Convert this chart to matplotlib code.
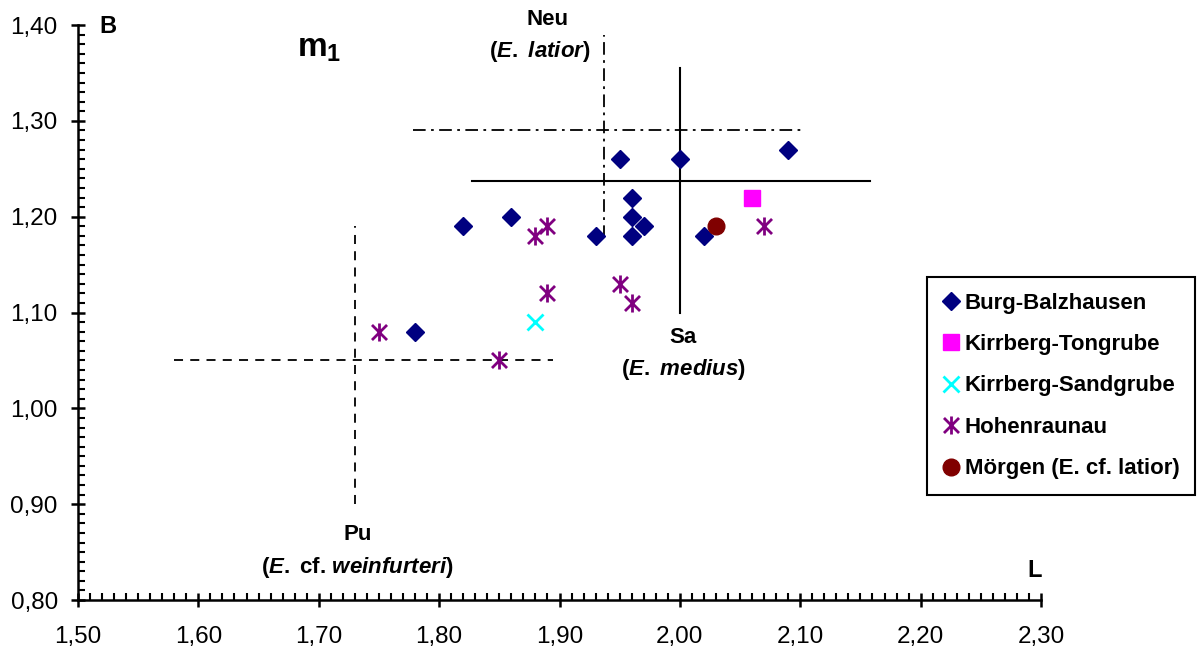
import matplotlib
matplotlib.use("Agg")
import matplotlib.pyplot as plt
from matplotlib.path import Path
from matplotlib.ticker import MultipleLocator, FuncFormatter

plt.rcParams['font.family'] = ['Liberation Sans', 'DejaVu Sans']
plt.rcParams['mathtext.fontset'] = 'custom'
plt.rcParams['mathtext.rm'] = 'Liberation Sans:bold'
plt.rcParams['mathtext.bf'] = 'Liberation Sans:bold'
plt.rcParams['mathtext.it'] = 'Liberation Sans:bold:italic'

# ---- data ----
burg_L = [1.78, 1.82, 1.86, 1.93, 1.95, 1.96, 1.96, 1.96, 1.97, 2.00, 2.02, 2.09]
burg_B = [1.08, 1.19, 1.20, 1.18, 1.26, 1.22, 1.20, 1.18, 1.19, 1.26, 1.18, 1.27]
ton_L = [2.06]
ton_B = [1.22]
sand_L = [1.88]
sand_B = [1.09]
hohen_L = [1.75, 1.85, 1.88, 1.89, 1.89, 1.95, 1.96, 2.07]
hohen_B = [1.08, 1.05, 1.18, 1.19, 1.12, 1.13, 1.11, 1.19]
moer_L = [2.03]
moer_B = [1.19]

series_names = ["Burg-Balzhausen", "Kirrberg-Tongrube", "Kirrberg-Sandgrube",
                "Hohenraunau", "Mörgen (E. cf. latior)"]

# reference crosses (centre lines of species ranges)
pu_x = 1.73; pu_y = 1.05; pu_xrange = (1.58, 1.895); pu_yrange = (0.90, 1.19)
neu_x = 1.937; neu_y = 1.29; neu_xrange = (1.778, 2.102); neu_yrange = (1.178, 1.39)
sa_x = 2.00; sa_y = 1.237; sa_xrange = (1.827, 2.158); sa_yrange = (1.10, 1.355)

x_ticks = [1.50, 1.60, 1.70, 1.80, 1.90, 2.00, 2.10, 2.20, 2.30]
y_ticks = [0.80, 0.90, 1.00, 1.10, 1.20, 1.30, 1.40]

W, H = 1202, 648
fig = plt.figure(figsize=(W / 100, H / 100), dpi=100)
ax = fig.add_axes([78 / W, 48 / H, 963 / W, 575 / H])
ax.set_xlim(1.50, 2.30)
ax.set_ylim(0.80, 1.40)

for s in ['top', 'right']:
    ax.spines[s].set_visible(False)
for s in ['left', 'bottom']:
    ax.spines[s].set_linewidth(1.8)

ax.set_xticks(x_ticks)
ax.set_yticks(y_ticks)
ax.xaxis.set_minor_locator(MultipleLocator(0.01))
ax.yaxis.set_minor_locator(MultipleLocator(0.01))
fmt = FuncFormatter(lambda v, p: f"{v:.2f}".replace('.', ','))
ax.xaxis.set_major_formatter(fmt)
ax.yaxis.set_major_formatter(fmt)
ax.tick_params(which='major', direction='inout', length=10, width=1.8, labelsize=17.5)
ax.tick_params(axis='x', which='major', pad=14)
ax.tick_params(axis='y', which='major', pad=9.5)
ax.tick_params(which='minor', direction='in', length=5, width=1.5)

# asterisk marker: X plus vertical bar
ast = Path([(-0.5, -0.5), (0.5, 0.5), (-0.5, 0.5), (0.5, -0.5), (0, -0.6), (0, 0.6)],
           [Path.MOVETO, Path.LINETO, Path.MOVETO, Path.LINETO, Path.MOVETO, Path.LINETO])

ax.plot(burg_L, burg_B, ls='none', marker='D', ms=9.5, color='#000080', label=series_names[0], zorder=5)
ax.plot(ton_L, ton_B, ls='none', marker='s', ms=11.5, color='#FF00FF', label=series_names[1], zorder=5)
ax.plot(sand_L, sand_B, ls='none', marker='x', ms=11, mew=2, color='#00FFFF', label=series_names[2], zorder=5)
ax.plot(hohen_L, hohen_B, ls='none', marker=ast, ms=13, mew=2, color='#800080', label=series_names[3], zorder=5)
ax.plot(moer_L, moer_B, ls='none', marker='o', ms=12, color='#800000', label=series_names[4], zorder=6)

# reference lines
lw = 1.3
ax.plot(pu_xrange, [pu_y, pu_y], color='black', lw=lw, ls=(0, (5, 4)))
ax.plot([pu_x, pu_x], pu_yrange, color='black', lw=lw, ls=(0, (5, 4)))
ax.plot(neu_xrange, [neu_y, neu_y], color='black', lw=lw, ls=(0, (7, 3, 1.5, 3)))
ax.plot([neu_x, neu_x], neu_yrange, color='black', lw=lw, ls=(0, (7, 3, 1.5, 3)))
ax.plot(sa_xrange, [sa_y, sa_y], color='black', lw=1.5, ls='-')
ax.plot([sa_x, sa_x], sa_yrange, color='black', lw=1.5, ls='-')

# labels
tk = dict(fontsize=16, fontweight='bold', ha='center', va='center', clip_on=False)
ax.text(1.890, 1.406, "Neu", **tk)
ax.text(1.884, 1.372, r"($\mathit{E.\ latior}$)", **tk)
ax.text(2.0025, 1.074, "Sa", **tk)
ax.text(2.003, 1.040, r"($\mathit{E.\ medius}$)", **tk)
ax.text(1.7326, 0.868, "Pu", **tk)
ax.text(1.732, 0.834, r"($\mathit{E.}$ cf. $\mathit{weinfurteri}$)", **tk)

ax.text(1.70, 1.376, r"$\mathbf{m_1}$", fontsize=24, fontweight='bold', ha='center', va='center')
ax.text(1.525, 1.398, "B", fontsize=17, fontweight='bold', ha='center', va='center', clip_on=False)
ax.text(2.295, 0.831, "L", fontsize=17, fontweight='bold', ha='center', va='center')

leg = ax.legend(loc='upper left', bbox_to_anchor=(927 / W, 1 - 277 / H), bbox_transform=fig.transFigure,
                frameon=True, fancybox=False, edgecolor='black', framealpha=1,
                prop={'weight': 'bold', 'size': 16}, handlelength=0.8, handletextpad=0.2,
                labelspacing=0.92, borderpad=0.7, borderaxespad=0)
leg.get_frame().set_linewidth(1.5)

fig.savefig("out.png", dpi=100)
